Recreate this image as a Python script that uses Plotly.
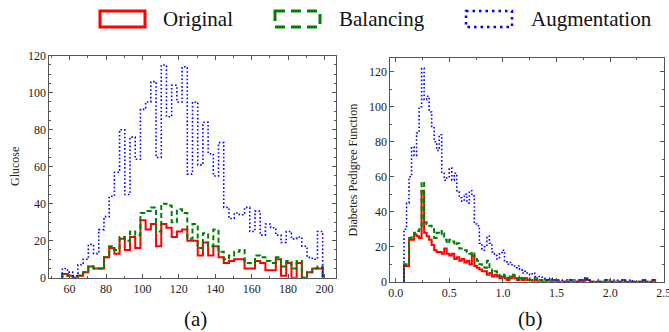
import plotly.graph_objects as go

W, H = 669, 332

# ---------------- data ----------------
# Panel (a): Glucose histogram, 50 bins starting at 56, width 2.86
glucose_start = 56.0
glucose_width = 2.86
glucose_original = [2, 1, 0, 1, 3, 6, 5, 5, 11, 16,
                    13, 21, 15, 22, 16, 31, 26, 29, 17, 29,
                    27, 22, 25, 26, 20, 20, 12, 19, 12, 17,
                    11, 8, 9, 10, 10, 5, 5, 9, 8, 4,
                    4, 10, 1, 8, 0, 8, 0, 3, 5, 5]
glucose_balancing = [2, 1, 0, 1, 3, 6, 5, 5, 11, 17,
                     15, 22, 20, 25, 23, 35, 36, 38, 25, 40,
                     39, 30, 37, 35, 21, 29, 16, 24, 17, 26,
                     14, 10, 12, 14, 15, 8, 8, 12, 11, 9,
                     8, 11, 6, 9, 5, 9, 0, 3, 5, 6]
glucose_augmentation = [5, 3, 1, 7, 10, 18, 13, 26, 33, 44,
                        57, 80, 45, 76, 64, 91, 95, 106, 65, 115,
                        87, 104, 95, 114, 56, 95, 61, 84, 67, 55,
                        73, 38, 32, 35, 34, 38, 25, 36, 23, 29,
                        27, 23, 19, 25, 21, 22, 17, 11, 10, 25]

# Panel (b): Diabetes Pedigree Function histogram, 100 bins from 0.078, width 0.02342
dpf_start = 0.078
dpf_width = 0.02342
dpf_original = [9, 9, 24, 24, 27, 26, 25, 52, 28, 26,
                24, 21, 18, 17, 17, 16, 19, 16, 15, 16,
                13, 14, 12, 13, 11, 12, 10, 15, 9, 8,
                7, 6, 6, 4, 5, 3, 4, 3, 2, 3,
                2, 1, 2, 3, 2, 1, 2, 1, 2, 1,
                1, 0, 1, 0, 1, 0, 0, 1, 0, 0,
                1, 0, 0, 0, 0, 0, 1, 0, 0, 0,
                1, 0, 1, 1, 0, 0, 0, 0, 0, 0,
                0, 0, 0, 0, 0, 0, 0, 1, 0, 0,
                0, 0, 0, 0, 0, 1, 0, 0, 0, 1]
dpf_balancing = [10, 10, 25, 26, 28, 29, 30, 57, 34, 33,
                 32, 30, 25, 28, 27, 29, 24, 22, 24, 23,
                 21, 22, 19, 18, 18, 17, 16, 17, 13, 12,
                 10, 9, 8, 12, 7, 5, 6, 4, 3, 4,
                 3, 2, 3, 4, 3, 2, 3, 2, 2, 2,
                 1, 1, 2, 1, 1, 0, 1, 1, 0, 1,
                 1, 0, 0, 0, 0, 0, 1, 0, 0, 0,
                 1, 0, 2, 1, 0, 0, 0, 0, 0, 0,
                 1, 0, 0, 0, 0, 0, 0, 1, 0, 0,
                 0, 0, 0, 0, 0, 1, 0, 0, 0, 1]
dpf_augmentation = [30, 45, 60, 77, 72, 85, 100, 122, 104, 106,
                    97, 88, 80, 75, 84, 62, 58, 60, 65, 58,
                    62, 52, 48, 46, 50, 45, 52, 49, 33, 32,
                    22, 18, 20, 26, 22, 17, 15, 13, 16, 18,
                    12, 10, 11, 9, 8, 9, 7, 5, 6, 5,
                    4, 5, 3, 3, 3, 2, 2, 1, 2, 1,
                    1, 1, 1, 0, 1, 0, 1, 1, 0, 1,
                    1, 1, 2, 1, 0, 0, 0, 1, 0, 0,
                    1, 1, 0, 1, 1, 0, 1, 1, 0, 0,
                    1, 0, 0, 0, 0, 1, 0, 0, 0, 1]

series_names = ["Original", "Balancing", "Augmentation"]
caption_labels = ["(a)", "(b)"]
y_titles = ["Glucose", "Diabetes Pedigree Function"]

# ---------------- styles ----------------
RED, GREEN, BLUE = "#ff0000", "#008000", "#0000ff"
FONT = "'Liberation Serif', Tinos, 'Times New Roman', 'DejaVu Serif', serif"
FRAME = "#555555"
styles = [dict(color=RED, width=2, dash="solid"),
          dict(color=GREEN, width=2, dash="5px,3px"),
          dict(color=BLUE, width=1.6, dash="1.6px,2.2px")]


def step_xy(start, width, counts):
    n = len(counts)
    edges = [start + width * i for i in range(n + 1)]
    xs = [edges[0]] + edges[:n] + [edges[n], edges[n]]
    ys = [0] + list(counts) + [counts[-1], 0]
    return xs, ys


fig = go.Figure()
panelA = [glucose_original, glucose_balancing, glucose_augmentation]
panelB = [dpf_original, dpf_balancing, dpf_augmentation]
for name, counts, st in zip(series_names, panelA, styles):
    xs, ys = step_xy(glucose_start, glucose_width, counts)
    fig.add_trace(go.Scatter(x=xs, y=ys, mode="lines", line_shape="hv", line=st,
                             name=name, showlegend=False, xaxis="x", yaxis="y"))
for name, counts, st in zip(series_names, panelB, styles):
    xs, ys = step_xy(dpf_start, dpf_width, counts)
    fig.add_trace(go.Scatter(x=xs, y=ys, mode="lines", line_shape="hv", line=st,
                             name=name, showlegend=False, xaxis="x2", yaxis="y2"))


def px_x(p):
    return p / W


def px_y(p):
    return 1 - p / H


axis_common = dict(showline=True, linecolor=FRAME, linewidth=1, mirror="allticks",
                   ticks="inside", ticklen=4, tickcolor=FRAME, tickwidth=1,
                   showgrid=False, zeroline=False, ticklabeloverflow="allow",
                   automargin=False,
                   tickfont=dict(family=FONT, size=12, color="#222"))

fig.update_layout(
    width=W, height=H, margin=dict(l=0, r=0, t=0, b=0, autoexpand=False),
    paper_bgcolor="white", plot_bgcolor="white", showlegend=False,
    font=dict(family=FONT),
    xaxis=dict(domain=[px_x(49.3), px_x(335.7)], range=[48.85, 206.15],
               tick0=0, dtick=20, anchor="y",
               minor=dict(ticks="inside", ticklen=2, dtick=10, tickcolor=FRAME),
               **axis_common),
    yaxis=dict(domain=[px_y(277.7), px_y(55.7)], range=[0, 120], dtick=20, anchor="x",
               minor=dict(ticks="inside", ticklen=2, dtick=5, tickcolor=FRAME),
               **axis_common),
    xaxis2=dict(domain=[px_x(390.3), px_x(664.3)], range=[-0.05, 2.505],
                tick0=0, dtick=0.5, tickformat=".1f", anchor="y2",
                minor=dict(ticks="inside", ticklen=2, dtick=0.25, tickcolor=FRAME),
                **axis_common),
    yaxis2=dict(domain=[px_y(281.7), px_y(57.7)], range=[0, 128], dtick=20, anchor="x2",
                minor=dict(ticks="inside", ticklen=2, dtick=10, tickcolor=FRAME),
                **axis_common),
)

# legend (drawn manually: outlined rectangles + text)
legend_items = [(100, 145, 161, RED, "solid", 3),
                (275, 320, 337, GREEN, "10px,6px", 3),
                (466, 512, 529, BLUE, "2.5px,4px", 2.5)]
shapes = []
annotations = []
for (x0, x1, tx, col, dash, lw), name in zip(legend_items, series_names):
    shapes.append(dict(type="rect", xref="paper", yref="paper",
                       x0=px_x(x0), x1=px_x(x1), y0=px_y(11), y1=px_y(27),
                       line=dict(color=col, width=lw, dash=dash)))
    annotations.append(dict(text=name, xref="paper", yref="paper", x=px_x(tx), y=px_y(19),
                            xanchor="left", yanchor="middle", showarrow=False,
                            font=dict(family=FONT, size=21, color="#111")))

# y-axis titles
annotations.append(dict(text=y_titles[0], xref="paper", yref="paper", x=px_x(15), y=px_y(167),
                        textangle=-90, xanchor="center", yanchor="middle", showarrow=False,
                        font=dict(family=FONT, size=12, color="#222")))
annotations.append(dict(text=y_titles[1], xref="paper", yref="paper", x=px_x(352.5), y=px_y(170),
                        textangle=-90, xanchor="center", yanchor="middle", showarrow=False,
                        font=dict(family=FONT, size=12, color="#222")))
# captions
annotations.append(dict(text=caption_labels[0], xref="paper", yref="paper", x=px_x(196), y=px_y(319),
                        xanchor="center", yanchor="middle", showarrow=False,
                        font=dict(family=FONT, size=21, color="#111")))
annotations.append(dict(text=caption_labels[1], xref="paper", yref="paper", x=px_x(530), y=px_y(319),
                        xanchor="center", yanchor="middle", showarrow=False,
                        font=dict(family=FONT, size=21, color="#111")))

fig.update_layout(shapes=shapes, annotations=annotations)
fig.write_html("out.html")
